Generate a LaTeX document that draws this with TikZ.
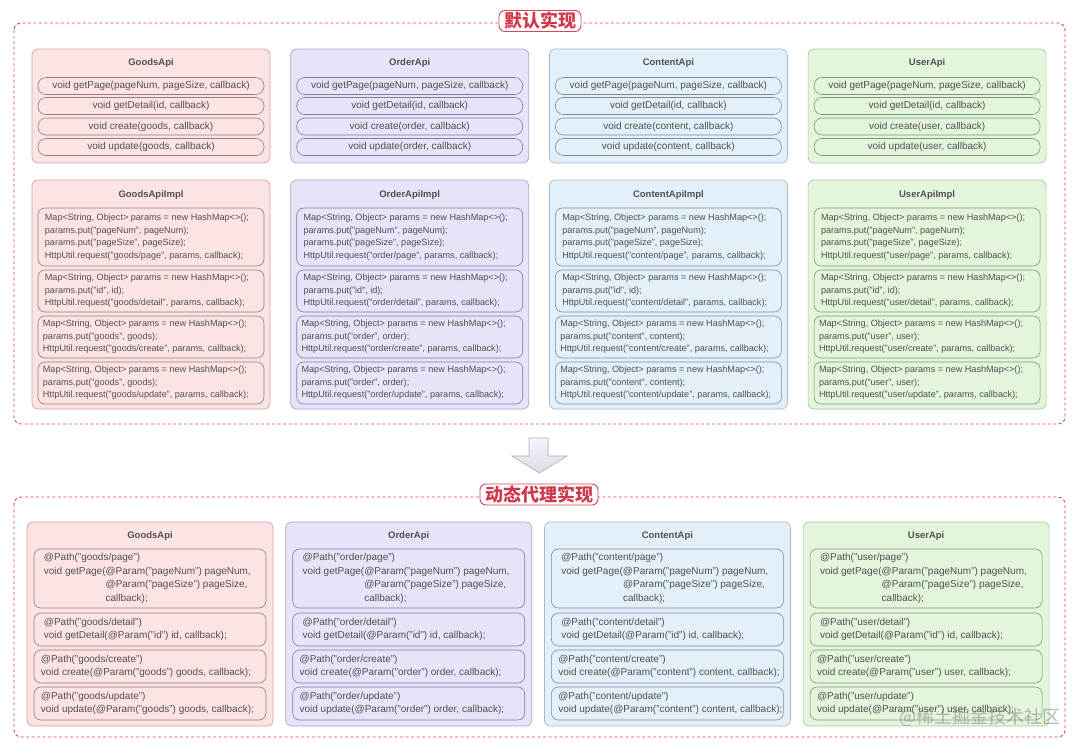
\documentclass[tikz,border=0pt]{standalone}
\usepackage{fontspec}
\setmainfont{Liberation Sans}
\newfontfamily\cjk{Noto Sans CJK SC}
\definecolor{dred}{HTML}{D4465A}
\definecolor{tred}{HTML}{CE3A4A}
\definecolor{txt}{HTML}{505050}
\definecolor{gfill}{HTML}{FDE4E4}
\definecolor{gline}{HTML}{CFA3A6}
\definecolor{ofill}{HTML}{E6E4F8}
\definecolor{oline}{HTML}{A9A5CF}
\definecolor{cfill}{HTML}{E3F0FA}
\definecolor{cline}{HTML}{A2BACE}
\definecolor{ufill}{HTML}{E3F6DC}
\definecolor{uline}{HTML}{A7C79F}
\tikzset{
  outerbox/.style={draw=dred, line width=0.9pt, dash pattern=on 3pt off 2.5pt, rounded corners=7pt},
  titlebox/.style={draw=dred, line width=0.9pt, fill=white, rounded corners=6pt, text=tred, font=\cjk\bfseries\fontsize{18}{18}\selectfont, inner xsep=5pt, inner ysep=1pt, minimum height=21pt},
  panel/.style={line width=0.7pt, rounded corners=6pt, inner sep=0pt},
  pill/.style={line width=0.6pt, rounded corners=8pt, inner sep=0pt, minimum width=226, minimum height=17, text=txt, font=\fontsize{10}{12}\selectfont},
  subbox/.style={line width=0.6pt, rounded corners=7pt, inner sep=0pt},
  ptitle/.style={text=txt, font=\bfseries\fontsize{9.5}{11}\selectfont, inner sep=0pt},
  codesm/.style={text=txt, align=left, inner sep=0pt, font=\fontsize{9.1}{12.5}\selectfont},
  codelg/.style={text=txt, align=left, inner sep=0pt, font=\fontsize{10}{13.7}\selectfont},
}
\begin{document}
\begin{tikzpicture}[x=1pt,y=-1pt]
\useasboundingbox[fill=white] (0,0) rectangle (1080,748);
% outer dashed frames
\draw[outerbox] (14,23) rectangle (1065,424);
\draw[outerbox] (14,497) rectangle (1065,737);
\node[titlebox] (t1) at (540,21) {默认实现};
\node[titlebox] (t2) at (539,494.5) {动态代理实现};
% top section
\foreach \i/\nm/\ent/\fc/\lc in {0/Goods/goods/gfill/gline,1/Order/order/ofill/oline,2/Content/content/cfill/cline,3/User/user/ufill/uline}{
  \pgfmathsetmacro\xc{32+258.7*\i+119}
  \node[panel, fill=\fc, draw=\lc, minimum width=238, minimum height=114] (api\i) at (\xc,106) {};
  \node[ptitle] (apit\i) at (\xc,63) {\nm Api};
  \node[pill, fill=\fc, draw=\lc!75!black] (apia\i) at (\xc,86) {void getPage(pageNum, pageSize, callback)};
  \node[pill, fill=\fc, draw=\lc!75!black] (apib\i) at (\xc,106) {void getDetail(id, callback)};
  \node[pill, fill=\fc, draw=\lc!75!black] (apic\i) at (\xc,126.5) {void create(\ent, callback)};
  \node[pill, fill=\fc, draw=\lc!75!black] (apid\i) at (\xc,147) {void update(\ent, callback)};
  % impl
  \node[panel, fill=\fc, draw=\lc, minimum width=238, minimum height=229] (imp\i) at (\xc,294.5) {};
  \node[ptitle] (impt\i) at (\xc,195) {\nm ApiImpl};
  \node[subbox, fill=\fc, draw=\lc!75!black, minimum width=226, minimum height=58] (impa\i) at (\xc,237) {};
  \node[codesm, anchor=west] (impat\i) at ([xshift=7pt]impa\i.west) {Map<String, Object> params = new HashMap<>();\\params.put("pageNum", pageNum);\\params.put("pageSize", pageSize);\\HttpUtil.request("\ent/page", params, callback);};
  \node[subbox, fill=\fc, draw=\lc!75!black, minimum width=226, minimum height=42] (impb\i) at (\xc,291) {};
  \node[codesm, anchor=west] (impbt\i) at ([xshift=7pt]impb\i.west) {Map<String, Object> params = new HashMap<>();\\params.put("id", id);\\HttpUtil.request("\ent/detail", params, callback);};
  \node[subbox, fill=\fc, draw=\lc!75!black, minimum width=226, minimum height=42] (impc\i) at (\xc,337) {};
  \node[codesm, anchor=west] (impct\i) at ([xshift=5pt]impc\i.west) {Map<String, Object> params = new HashMap<>();\\params.put("\ent", \ent);\\HttpUtil.request("\ent/create", params, callback);};
  \node[subbox, fill=\fc, draw=\lc!75!black, minimum width=226, minimum height=42] (impd\i) at (\xc,383) {};
  \node[codesm, anchor=west] (impdt\i) at ([xshift=5pt]impd\i.west) {Map<String, Object> params = new HashMap<>();\\params.put("\ent", \ent);\\HttpUtil.request("\ent/update", params, callback);};
}
% arrow
\draw[draw=gray!65, line width=0.6pt, top color=blue!4!white, bottom color=blue!12!gray!25!white] (529,438) -- (548,438) -- (548,456) -- (567,456) -- (539.5,473) -- (512,456) -- (529,456) -- cycle;
% bottom section
\foreach \i/\nm/\ent/\fc/\lc in {0/Goods/goods/gfill/gline,1/Order/order/ofill/oline,2/Content/content/cfill/cline,3/User/user/ufill/uline}{
  \pgfmathsetmacro\xc{27+258.7*\i+123}
  \node[panel, fill=\fc, draw=\lc, minimum width=246, minimum height=204] (dyn\i) at (\xc,624) {};
  \node[ptitle] (dynt\i) at (\xc,536) {\nm Api};
  \node[subbox, fill=\fc, draw=\lc!75!black, minimum width=232, minimum height=59] (dyna\i) at (\xc,578.5) {};
  \node[codelg, anchor=west] (dynat\i) at ([xshift=10pt]dyna\i.west) {@Path("\ent/page")\\void getPage(@Param("pageNum") pageNum,\\\phantom{void getPage(}@Param("pageSize") pageSize,\\\phantom{void getPage(}callback);};
  \node[subbox, fill=\fc, draw=\lc!75!black, minimum width=232, minimum height=33] (dynb\i) at (\xc,629.5) {};
  \node[codelg, anchor=west] (dynbt\i) at ([xshift=10pt]dynb\i.west) {@Path("\ent/detail")\\void getDetail(@Param("id") id, callback);};
  \node[subbox, fill=\fc, draw=\lc!75!black, minimum width=232, minimum height=33] (dync\i) at (\xc,666.5) {};
  \node[codelg, anchor=west] (dynct\i) at ([xshift=7pt]dync\i.west) {@Path("\ent/create")\\void create(@Param("\ent") \ent, callback);};
  \node[subbox, fill=\fc, draw=\lc!75!black, minimum width=232, minimum height=33] (dynd\i) at (\xc,703.5) {};
  \node[codelg, anchor=west] (dyndt\i) at ([xshift=7pt]dynd\i.west) {@Path("\ent/update")\\void update(@Param("\ent") \ent, callback);};
}
\node[text=gray, opacity=0.55, font=\cjk\fontsize{18}{18}\selectfont, inner sep=0pt] (wm) at (980,717) {@稀土掘金技术社区};
\end{tikzpicture}
\end{document}
